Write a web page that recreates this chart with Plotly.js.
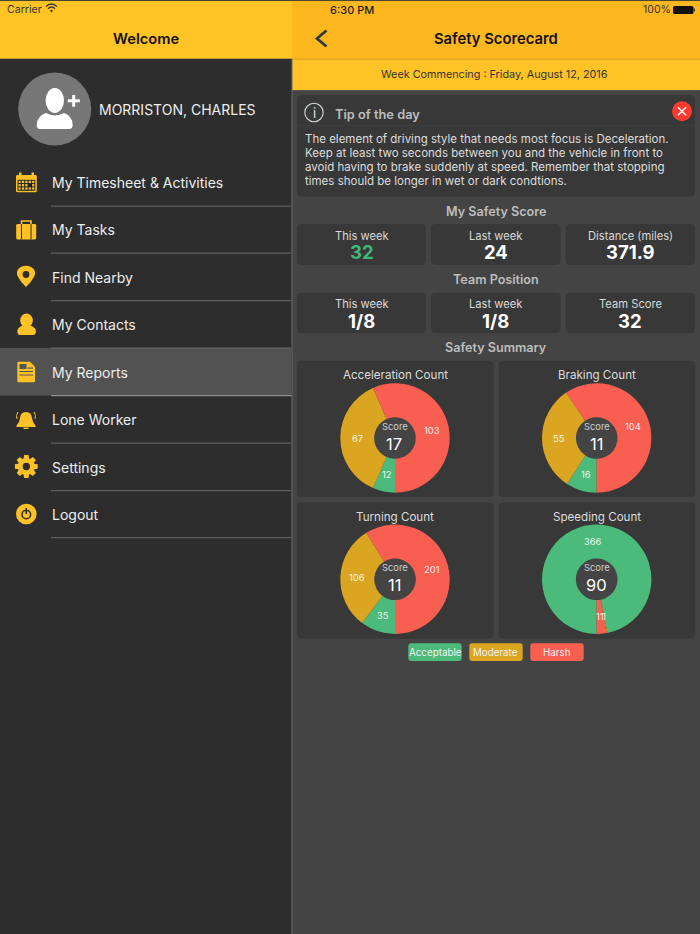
<!DOCTYPE html>
<html><head><meta charset="utf-8">
<script src="https://cdn.plot.ly/plotly-3.0.1.min.js"></script>
<style>html,body{margin:0;padding:0;background:#434343}#c{width:700px;height:934px}</style>
</head><body><div id="c"></div>
<script>
// ---- Chart data ----
const chartTitles = ["Acceleration Count","Braking Count","Turning Count","Speeding Count"];
const acceptable = [12,16,35,366];
const moderate   = [67,55,106,1];
const harsh      = [103,104,201,11];
const scores     = [17,11,11,90];
const seriesNames = ["Acceptable","Moderate","Harsh"];
const seriesColors = ["#4CBA7B","#DAA520","#F95F51"];
const menuItems = ["My Timesheet & Activities","My Tasks","Find Nearby","My Contacts","My Reports","Lone Worker","Settings","Logout"];
const safetyLabels = ["This week","Last week","Distance (miles)"];
const safetyValues = ["32","24","371.9"];
const teamLabels = ["This week","Last week","Team Score"];
const teamValues = ["1/8","1/8","32"];
const tipLines = [
 "The element of driving style that needs most focus is Deceleration.",
 "Keep at least two seconds between you and the vehicle in front to",
 "avoid having to brake suddenly at speed. Remember that stopping",
 "times should be longer in wet or dark condtions."];

// ---- Page geometry helpers (pixel to paper) ----
const W=700,H=934,FONT="Inter, 'Noto Sans', sans-serif";
const px=x=>x/W, py=y=>1-y/H;
const shapes=[],ann=[];
const noLine={width:0};
function rect(x0,y0,x1,y1,c){shapes.push({type:'rect',xref:'paper',yref:'paper',x0:px(x0),x1:px(x1),y0:py(y0),y1:py(y1),fillcolor:c,line:noLine,layer:'below'});}
function circ(cx,cy,r,c,ry){ry=ry||r;shapes.push({type:'circle',xref:'paper',yref:'paper',x0:px(cx-r),x1:px(cx+r),y0:py(cy-ry),y1:py(cy+ry),fillcolor:c,line:noLine,layer:'below'});}
function ring(cx,cy,r,c,w){shapes.push({type:'circle',xref:'paper',yref:'paper',x0:px(cx-r),x1:px(cx+r),y0:py(cy-r),y1:py(cy+r),fillcolor:'rgba(0,0,0,0)',line:{color:c,width:w},layer:'below'});}
function conv(d){let isX=true;return d.replace(/-?\d+(\.\d+)?/g,m=>{const v=isX?px(+m):py(+m);isX=!isX;return v.toFixed(5);});}
function path(d,c){shapes.push({type:'path',xref:'paper',yref:'paper',path:conv(d),fillcolor:c,line:noLine,layer:'below'});}
function stroke(d,c,w){shapes.push({type:'path',xref:'paper',yref:'paper',path:conv(d),fillcolor:'rgba(0,0,0,0)',line:{color:c,width:w},layer:'below'});}
function rrect(x0,y0,x1,y1,r,c){path(`M${x0+r} ${y0} L${x1-r} ${y0} Q${x1} ${y0} ${x1} ${y0+r} L${x1} ${y1-r} Q${x1} ${y1} ${x1-r} ${y1} L${x0+r} ${y1} Q${x0} ${y1} ${x0} ${y1-r} L${x0} ${y0+r} Q${x0} ${y0} ${x0+r} ${y0} Z`,c);}
function txt(x,y,t,size,color,anchor,weight){ann.push({xref:'paper',yref:'paper',x:px(x),y:py(y),text:t,showarrow:false,xanchor:anchor||'center',yanchor:'middle',borderpad:0,font:{family:FONT,size:size,color:color,weight:weight||400}});}

// ---- Backgrounds ----
const GOLD="#FFC326",PANEL="#383838",GOLDD="#FEB71F",SIDE="#2D2D2D",BG="#444444",ICON="#FFC226";
rect(0,0,W,H,BG);
rect(0,59,292,H,SIDE);
rect(0,0,292,58.5,GOLD);
rect(292,0,W,59,GOLDD);
rect(292,58.5,W,60,"#E3A724");
rect(292,60,W,90,GOLD);
rect(292,90,W,91,"#55524A");
rect(0,0,W,1,"#4a4535");
rect(0,58,292,59,"#C29A2C");
rect(291.5,59,292.5,H,"#6A6A6A");

// Sidebar
rect(0,348,291.5,395.5,"#525252");
const divY=[206,253,300.5,348,395.5,443,490.5,537.5];
divY.forEach((y,i)=>rect(51,y-0.5,291.5,y+0.7,i==4?"#8E8E8E":(i==3?"#646464":"#5E5E5E")));
const menuY=[182.4,230,277.5,325,372,419.4,467,514];
menuItems.forEach((m,i)=>txt(50.5,menuY[i],m,14,"#EDEDED",'left'));
txt(146,39.5,"Welcome",14.7,"#111",'center',600);
txt(5.5,10,"Carrier",10.6,"#333",'left');
txt(177.5,109,"MORRISTON, CHARLES",14,"#EDEDED");
// wifi
stroke("M46 6.5 Q51.5 1.5 57 6.5","#333",1.4);stroke("M48 8.7 Q51.5 5.5 55 8.7","#333",1.4);
path("M50 10.6 Q51.5 9 53 10.6 L51.5 12.4 Z","#333");
// avatar
circ(54.7,109,36.5,"#777777");
circ(54.8,100.5,9.2,"#FFFFFF",12.5);
path("M36.7 125 Q37 116 46 113 Q54.8 118 64 113 Q72.5 116 72.7 125 Q72.7 129 69 129 L40 129 Q36.7 129 36.7 125 Z","#FFFFFF");
rect(72.2,95,75.2,106.7,"#FFF");rect(67.8,99.3,79.8,102.3,"#FFF");

// Icons
rrect(16,175,36.8,192.3,1.5,ICON);
rect(19,172.5,21.5,177.5,ICON);rect(31.5,172.5,34,177.5,ICON);
rect(17.5,179.8,35.3,190.8,SIDE);
for(let r=0;r<3;r++)for(let c=0;c<5;c++)rect(18.5+c*3.4,180.8+r*3.3,20.7+c*3.4,183+r*3.3,(r==1&&c==3)?SIDE:ICON);
rect(29,184,32,186.5,"#1c1c1c");
stroke("M21.5 224 L21.5 221 L31 221 L31 224",ICON,1.6);
rrect(16.2,224,36.2,239.5,1.5,ICON);
rect(21,224,22,239.5,SIDE);rect(30.5,224,31.5,239.5,SIDE);
path("M26 265.7 C33 265.7 36.5 271 34.5 276 Q31.5 282 26 287 Q20.5 282 17.5 276 C15.5 271 19 265.7 26 265.7 Z",ICON);circ(26,274.5,3.4,SIDE);
circ(26.5,320.5,6.3,ICON,7);
path("M17.3 331 Q17.5 327 23 325.5 Q26.5 328 30 325.5 Q35.7 327 35.9 331 Q36 335 33 335 L20 335 Q17.3 335 17.3 331 Z",ICON);
path("M17.3 363 Q17.3 361.7 18.6 361.7 L30 361.7 L35 366.7 L35 380.7 Q35 382.3 33.5 382.3 L18.8 382.3 Q17.3 382.3 17.3 380.7 Z",ICON);
rect(19.5,364,26.5,369,"#555");rect(27.5,367.5,33,368.7,"#555");rect(19.5,371,33,372,"#555");rect(19.5,374.5,33,375.5,"#555");
path("M26 412 Q31.5 412 32 418 Q32.5 423 35.5 425.5 L35.5 427 L16.5 427 L16.5 425.5 Q19.5 423 20 418 Q20.5 412 26 412 Z",ICON);
rect(23.5,427.5,28.5,429,ICON);
stroke("M18 412 Q15.5 415.5 17 419",ICON,1);stroke("M34 412 Q36.5 415.5 35 419",ICON,1);
for(let i=0;i<8;i++){const a=i*Math.PI/4,c=Math.cos(a),s=Math.sin(a),cx=26.3,cy=466.5,f=(u,v)=>`${(cx+u*c-v*s).toFixed(2)} ${(cy+u*s+v*c).toFixed(2)}`;
 path(`M${f(6,-3)} L${f(11.4,-2.2)} L${f(11.4,2.2)} L${f(6,3)} Z`,ICON);}
circ(26.3,466.5,8.6,ICON);circ(26.3,466.5,3.7,SIDE);
circ(26.3,514,10.3,ICON);ring(26.3,514.5,4.3,"#2D2D2D",1.6);rect(24.6,507.5,28,510,ICON);rect(25.5,508,27.1,514,"#2D2D2D");

// Header right
txt(328.5,10,"6:30 PM",11,"#222",'left',500);
txt(642,10,"100%",10.5,"#333",'left');
rrect(673,6,693.5,14,1.5,"#111");rect(693.8,8.5,694.8,11.5,"#111");
stroke("M326.5 30.5 L317 38.5 L326.5 46.5","#2f3a44",2.8);
txt(496,39.5,"Safety Scorecard",14.8,"#111",'center',600);
txt(494.5,74.5,"Week Commencing : Friday, August 12, 2016",10.8,"#333");

// Tip panel
rrect(297,95,695,196.7,5,PANEL);
rect(297,125,695,125.6,"#424242");
ring(314,112.5,9.2,"#D6D6D6",1.1);
txt(314,112.5,"i",13,"#E0E0E0");
txt(333.5,114,"Tip of the day",12.8,"#BDBDBD",'left',600);
circ(682,111.3,10,"#FF3B30");
stroke("M678 107.3 L686 115.3","#FFF",1.5);stroke("M686 107.3 L678 115.3","#FFF",1.5);
const tipY=[138.5,152.5,167,181];
tipLines.forEach((l,i)=>txt(303.5,tipY[i],l,11.5,"#DDDDDD",'left'));

// Score cards
txt(496,211,"My Safety Score",12.6,"#BDBDBD",'center',600);
txt(496,279,"Team Position",12.6,"#BDBDBD",'center',600);
txt(496,347.5,"Safety Summary",12.6,"#BDBDBD",'center',600);
const cardX=[[297,426],[431,560.7],[565.7,695]];
cardX.forEach((c,i)=>{
 rrect(c[0],224,c[1],265,5,PANEL);rrect(c[0],292.7,c[1],333.3,5,PANEL);
 const m=(c[0]+c[1])/2;
 txt(m,235.5,safetyLabels[i],11.2,"#D8D8D8");
 txt(m,252.5,safetyValues[i],18.5,i==0?"#3FB978":"#FFFFFF",'center',700);
 txt(m,304,teamLabels[i],11.2,"#D8D8D8");
 txt(m,321,teamValues[i],18.5,"#FFFFFF",'center',700);
});

// Donut panels
const boxes=[[297,360.7,493.7,497.3],[498.7,360.7,695.3,497.3],[297,502.3,493.7,638.7],[498.7,502.3,695.3,638.7]];
const centres=[[395,438],[596.7,438],[395,579.3],[596.7,579.3]];
const R=54.7,rHole=20.8;
const traces=[];
chartTitles.forEach((t,i)=>{
 const b=boxes[i],c=centres[i];
 rrect(b[0],b[1],b[2],b[3],5,PANEL);
 circ(c[0],c[1],rHole,"#444444");
 txt((b[0]+b[2])/2-0.3,b[1]+14.5,t,11.6,"#DCDCDC");
 txt(c[0],c[1]-11.5,"Score",9.4,"#D0D0D0");
 txt(c[0]-0.7,c[1]+5.8,String(scores[i]),16.5,"#FFFFFF");
 const vals=[acceptable[i],moderate[i],harsh[i]];
 traces.push({type:'pie',values:vals,labels:seriesNames,sort:false,direction:'clockwise',rotation:180,hole:rHole/R,
  marker:{colors:seriesColors,line:{width:0}},textinfo:'none',hoverinfo:'label+value',showlegend:false,
  domain:{x:[px(c[0]-R),px(c[0]+R)],y:[py(c[1]+R),py(c[1]-R)]}});
 // slice value labels, positioned from the data at the middle of the ring
 const tot=vals.reduce((a,v)=>a+v,0);let acc=0;
 vals.forEach(v=>{const a=Math.PI+(acc+v/2)/tot*2*Math.PI;acc+=v;const rm=(R+rHole)/2;
  txt(c[0]+rm*Math.sin(a),c[1]-rm*Math.cos(a),String(v),9.4,"rgba(255,255,255,0.9)");});
});

// Legend pills
const pillX=[[408.3,461.7],[469.3,522.7],[530.3,583.7]];
seriesNames.forEach((n,i)=>{rrect(pillX[i][0],643.3,pillX[i][1],661,3,seriesColors[i]);
 txt((pillX[i][0]+pillX[i][1])/2,652.3,n,9.8,"#F2F2F2");});

Plotly.newPlot('c',traces,{width:W,height:H,margin:{l:0,r:0,t:0,b:0,pad:0},paper_bgcolor:BG,plot_bgcolor:BG,showlegend:false,shapes:shapes,annotations:ann},{displayModeBar:false,staticPlot:true});
</script></body></html>
